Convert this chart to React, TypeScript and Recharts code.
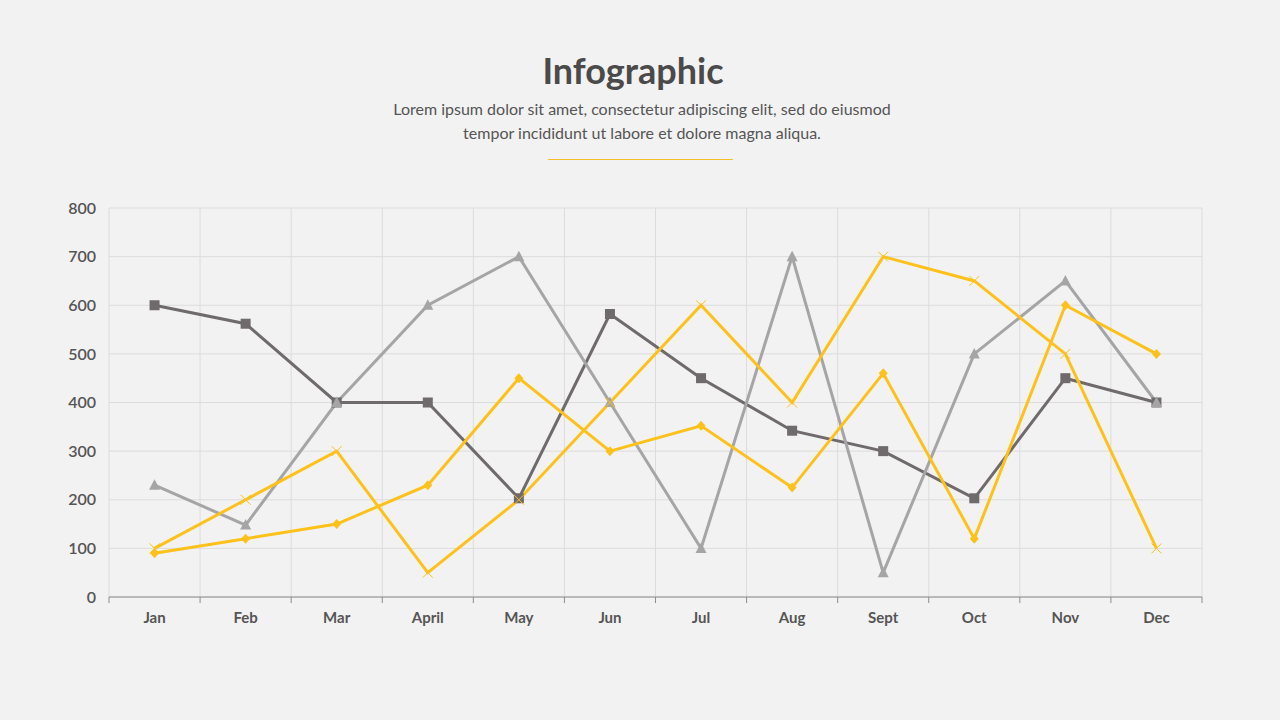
import React from "react";
import { LineChart, Line, XAxis, YAxis, CartesianGrid } from "recharts";

const months = ["Jan", "Feb", "Mar", "April", "May", "Jun", "Jul", "Aug", "Sept", "Oct", "Nov", "Dec"];
const seriesDark = [600, 562, 400, 400, 203, 582, 450, 342, 300, 203, 450, 400];
const seriesLight = [230, 148, 400, 600, 700, 400, 100, 700, 50, 500, 650, 400];
const seriesDiamond = [90, 120, 150, 230, 450, 300, 352, 225, 460, 120, 600, 500];
const seriesCross = [100, 200, 300, 50, 200, 400, 600, 400, 700, 650, 500, 100];
const yTicks = [0, 100, 200, 300, 400, 500, 600, 700, 800];

const DARK = "#6f6a6c";
const LIGHT = "#a5a5a5";
const YELLOW = "#fcc11a";
const FONT = "Lato, 'Open Sans', sans-serif";

const data = months.map((m, i) => ({
  x: i + 0.5,
  month: m,
  dark: seriesDark[i],
  light: seriesLight[i],
  diamond: seriesDiamond[i],
  cross: seriesCross[i],
}));

const xTicks: number[] = [];
for (let i = 0; i <= 24; i++) xTicks.push(i / 2);

const SquareDot = (props: any) => {
  const { cx, cy } = props;
  if (cx == null || cy == null) return null;
  return <rect x={cx - 5} y={cy - 5} width={10} height={10} fill={DARK} />;
};

const TriangleDot = (props: any) => {
  const { cx, cy } = props;
  if (cx == null || cy == null) return null;
  return <polygon points={`${cx},${cy - 6} ${cx + 5.5},${cy + 4.5} ${cx - 5.5},${cy + 4.5}`} fill={LIGHT} />;
};

const DiamondDot = (props: any) => {
  const { cx, cy } = props;
  if (cx == null || cy == null) return null;
  return <polygon points={`${cx},${cy - 5} ${cx + 4.5},${cy} ${cx},${cy + 5} ${cx - 4.5},${cy}`} fill={YELLOW} />;
};

const CrossDot = (props: any) => {
  const { cx, cy } = props;
  if (cx == null || cy == null) return null;
  return (
    <g stroke={YELLOW} strokeWidth={1}>
      <line x1={cx - 5} y1={cy - 5} x2={cx + 5} y2={cy + 5} />
      <line x1={cx - 5} y1={cy + 5} x2={cx + 5} y2={cy - 5} />
    </g>
  );
};

const XTick = (props: any) => {
  const { x, y, payload } = props;
  const v = payload.value;
  if (Number.isInteger(v)) {
    return <line x1={x} x2={x} y1={y} y2={y + 6} stroke="#8c8c8c" strokeWidth={1} />;
  }
  const label = months[Math.floor(v)];
  return (
    <text x={x} y={y + 26} textAnchor="middle" fill="#555" fontSize={15} fontWeight={700} fontFamily={FONT}>
      {label}
    </text>
  );
};

export default function App() {
  return (
    <div
      style={{
        position: "absolute",
        left: 0,
        top: 0,
        width: 1280,
        height: 720,
        background: "#f2f2f2",
        fontFamily: FONT,
        overflow: "hidden",
      }}
    >
      <div
        style={{
          position: "absolute",
          top: 47,
          left: 0,
          width: 1266,
          textAlign: "center",
          fontSize: 36,
          fontWeight: 700,
          color: "#4a4a4a",
          lineHeight: "46px",
        }}
      >
        Infographic
      </div>
      <div
        style={{
          position: "absolute",
          top: 97,
          left: 0,
          width: 1284,
          textAlign: "center",
          fontSize: 16,
          color: "#555",
          lineHeight: "24px",
        }}
      >
        Lorem ipsum dolor sit amet, consectetur adipiscing elit, sed do eiusmod
        <br />
        tempor incididunt ut labore et dolore magna aliqua.
      </div>
      <div
        style={{
          position: "absolute",
          top: 159,
          left: 548,
          width: 185,
          height: 1,
          background: "#f4bf2a",
        }}
      />
      <div style={{ position: "absolute", left: 0, top: 190 }}>
        <LineChart width={1240} height={460} data={data} margin={{ top: 18, right: 38, bottom: 13, left: 0 }}>
          <CartesianGrid
            stroke="#dcdcdc"
            strokeWidth={1}
            verticalCoordinatesGenerator={({ offset }: any) => {
              const pts: number[] = [];
              for (let i = 0; i <= 12; i++) pts.push(offset.left + (i * offset.width) / 12);
              return pts;
            }}
          />
          <XAxis
            dataKey="x"
            type="number"
            domain={[0, 12]}
            ticks={xTicks}
            interval={0}
            tickSize={0}
            tickMargin={0}
            tickLine={false}
            axisLine={{ stroke: "#8c8c8c" }}
            tick={<XTick />}
            height={40}
          />
          <YAxis
            domain={[0, 800]}
            ticks={yTicks}
            interval={0}
            width={109}
            axisLine={false}
            tickLine={false}
            tickMargin={7}
            tick={{ fill: "#555", fontSize: 16, fontFamily: FONT, fontWeight: 600 }}
          />
          <Line dataKey="dark" stroke={DARK} strokeWidth={3} dot={<SquareDot />} activeDot={false} isAnimationActive={false} />
          <Line dataKey="light" stroke={LIGHT} strokeWidth={3} dot={<TriangleDot />} activeDot={false} isAnimationActive={false} />
          <Line dataKey="diamond" stroke={YELLOW} strokeWidth={3} dot={<DiamondDot />} activeDot={false} isAnimationActive={false} />
          <Line dataKey="cross" stroke={YELLOW} strokeWidth={3} dot={<CrossDot />} activeDot={false} isAnimationActive={false} />
        </LineChart>
      </div>
    </div>
  );
}
